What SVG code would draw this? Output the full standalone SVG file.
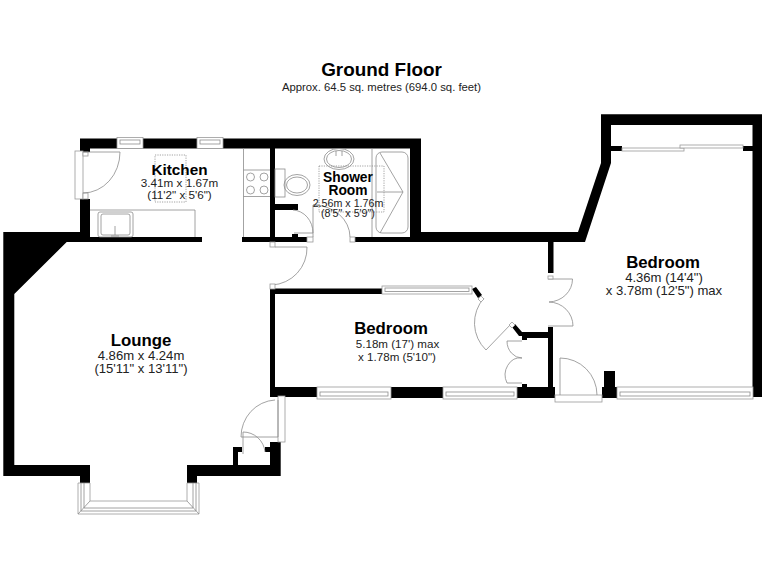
<svg xmlns="http://www.w3.org/2000/svg" width="768" height="576" viewBox="0 0 768 576">
<style>
.w{fill:#000;stroke:none}
.l{fill:none;stroke:#8c8c8c;stroke-width:.8}
.f{fill:#fff;stroke:#9a9a9a;stroke-width:.8}
.d{fill:none;stroke:#8c8c8c;stroke-width:.8;stroke-dasharray:1.2 1.2}
text{font-family:"Liberation Sans",Arial,sans-serif;text-anchor:middle;fill:#222}
.t{font-weight:bold;fill:#000}
.b{font-size:16.800px}
.m{font-size:13.100px}
.n{font-size:11.600px}
</style>
<rect width="768" height="576" fill="#fff"/>
<g id="walls">
<path class="w" d="M80 138.500H421V242H355V237H410V148.500H90V152H80Z"/>
<path class="w" d="M80 199H90V237H202V242H66.700L14.300 294V465H90V483H80V476H3.300V232H80Z"/>
<rect class="w" x="242" y="237" width="65" height="5"/>
<rect class="w" x="270" y="148" width="5" height="89"/>
<rect class="w" x="275" y="204" width="23" height="6"/>
<rect class="w" x="292" y="234" width="6" height="3"/>
<path class="w" d="M421 232H578L601 163V114.300H762V397H752.500V125H611V163L585 242H421Z"/>
<rect class="w" x="611" y="146" width="11" height="5"/><rect class="w" x="743" y="146" width="10" height="5"/>
<rect class="w" x="548" y="242" width="5.500" height="31"/>
<path class="w" d="M270 288.500H382V294H275V387H317V397H270Z"/>
<path class="w" d="M472 289L476 287L482 295L478 298Z"/>
<path class="w" d="M512 327L515 324L522 332H548V327H553V387H555V398H517V387H548V338H527V340H522V336H519Z"/>
<rect class="w" x="522" y="384" width="5" height="3"/>
<rect class="w" x="391" y="387" width="52" height="11"/>
<path class="w" d="M604 371H615V387H617V398H602V387H604Z"/>
<path class="w" d="M270 442H280.700V476H197V483H187V465H233V447H242V452H238V465H270V452H265V447H270Z"/>
</g>
<g id="fixtures">
<path class="l" d="M90 210H195V237M243.500 148V237M243.500 170H270M243.500 196.500H270M372 148V237"/>
<rect class="l" x="98" y="212" width="35" height="25" rx="2"/>
<rect class="l" x="101" y="214" width="29" height="21" rx="2"/>
<path class="l" d="M115 226V235M111 236h8"/>
<circle class="l" cx="250.500" cy="177" r="4"/><circle class="l" cx="264" cy="177" r="4"/>
<circle class="l" cx="250.500" cy="190" r="4"/><circle class="l" cx="264" cy="190" r="4"/>
<rect class="l" x="275" y="169" width="10" height="28"/>
<ellipse class="l" cx="297" cy="185" rx="13" ry="10.500"/><ellipse class="l" cx="297" cy="185" rx="10.500" ry="8"/>
<ellipse class="l" cx="339" cy="159" rx="15" ry="10.500"/><ellipse class="l" cx="339" cy="159" rx="12.500" ry="8.500"/>
<path class="l" d="M336 151v5M342 151v5"/>
<rect class="l" x="376" y="152" width="32" height="81" rx="6"/>
<path class="l" d="M380 153L403 192L380 233M377 192H403"/>
<rect class="d" x="155" y="155" width="31" height="47"/>
<rect class="d" x="319" y="166" width="65" height="46"/>
</g>
<g id="windows">
<rect class="f" x="117" y="137.500" width="26" height="11"/><rect class="l" x="120" y="140" width="20" height="4"/>
<rect class="f" x="197" y="137.500" width="26" height="11"/><rect class="l" x="200" y="140" width="20" height="4"/>
<rect class="f" x="75" y="151" width="8" height="48"/>
<rect class="f" x="83" y="152" width="5" height="4"/><rect class="f" x="83" y="193" width="5" height="6"/>
<rect class="f" x="382" y="286" width="90" height="8"/><rect class="l" x="385" y="288" width="84" height="3.500"/>
<rect class="f" x="317" y="387" width="74" height="12"/><rect class="l" x="320" y="392" width="68" height="4"/>
<rect class="f" x="443" y="387" width="74" height="12"/><rect class="l" x="446" y="392" width="68" height="4"/>
<rect class="f" x="617" y="387" width="136" height="12"/><rect class="l" x="620" y="392" width="130" height="4"/>
<rect class="f" x="622" y="148" width="62" height="3"/><rect class="f" x="680" y="145" width="63" height="3"/>
<rect class="f" x="278" y="396" width="7" height="46"/>
<rect class="f" x="555" y="395" width="47" height="7"/>
<path class="f" d="M78 483H90V501H187V483H199V514H78Z"/>
<path class="l" d="M81 483V511H196V483M84 483V508H193V483M78 514L90 501M199 514L187 501"/>
</g>
<g id="doors">
<path class="l" d="M83 152H120A37 41 0 0 1 83 193"/>
<path class="l" d="M275 247H307A37 37 0 0 1 272 285"/>
<rect class="f" x="270" y="242" width="5" height="5"/><rect class="f" x="270" y="284" width="5" height="5"/>
<rect class="f" x="307" y="237" width="6" height="5"/><rect class="f" x="350" y="237" width="5" height="5"/>
<path class="l" d="M313 237V205H320M313 205A37 32 0 0 1 350 237"/>
<path class="l" d="M293 210A21 23 0 0 1 313 233M294 233H313"/>
<path class="l" d="M484 298A37.500 37.500 0 0 0 486 350L512 323"/>
<path class="f" d="M481 296l3 3-3 3-3-3zM512 322l3 3-3 3-3-3z"/>
<path class="l" d="M522 341H507A15 17 0 0 0 522 358A15 17 0 0 0 507 383H522"/>
<path class="l" d="M548 279H572.500A24.500 23 0 0 1 549 302A24.500 24 0 0 1 573 326H548"/>
<rect class="f" x="548" y="276" width="5" height="3"/>
<path class="l" d="M560 395V358A37 37 0 0 1 597 395"/>
<path class="l" d="M278 437V400M275 400A36 37 0 0 0 241 437H278"/>
<path class="l" d="M243 454V432A22 22 0 0 1 265 452"/>
</g>
<g id="labels">
<text class="t" x="381.500" y="76" style="font-size:18.900px">Ground Floor</text>
<text x="381.500" y="91" style="font-size:11.300px">Approx. 64.5 sq. metres (694.0 sq. feet)</text>
<text class="t" x="179.500" y="175" style="font-size:15.300px">Kitchen</text>
<text x="179.500" y="187" style="font-size:11.700px">3.41m x 1.67m</text><text x="179.500" y="199" style="font-size:11.700px">(11'2" x 5'6")</text>
<text class="t" x="348" y="181.500" style="font-size:13.800px">Shower</text><text class="t" x="348" y="195" style="font-size:13.800px">Room</text>
<text x="348" y="206.500" style="font-size:10.700px">2.56m x 1.76m</text><text x="348" y="216.500" style="font-size:10.700px">(8'5" x 5'9")</text>
<text class="t b" x="391" y="334">Bedroom</text><text class="n" x="397.500" y="347.500">5.18m (17') max</text><text class="n" x="397" y="360.500">x 1.78m (5'10")</text>
<text class="t b" x="663" y="268">Bedroom</text><text class="m" x="664" y="281.500">4.36m (14'4")</text><text class="m" x="664" y="295">x 3.78m (12'5") max</text>
<text class="t b" x="141" y="346">Lounge</text><text class="m" x="141" y="359.500">4.86m x 4.24m</text><text class="m" x="141" y="373">(15'11" x 13'11")</text>
</g>
</svg>
